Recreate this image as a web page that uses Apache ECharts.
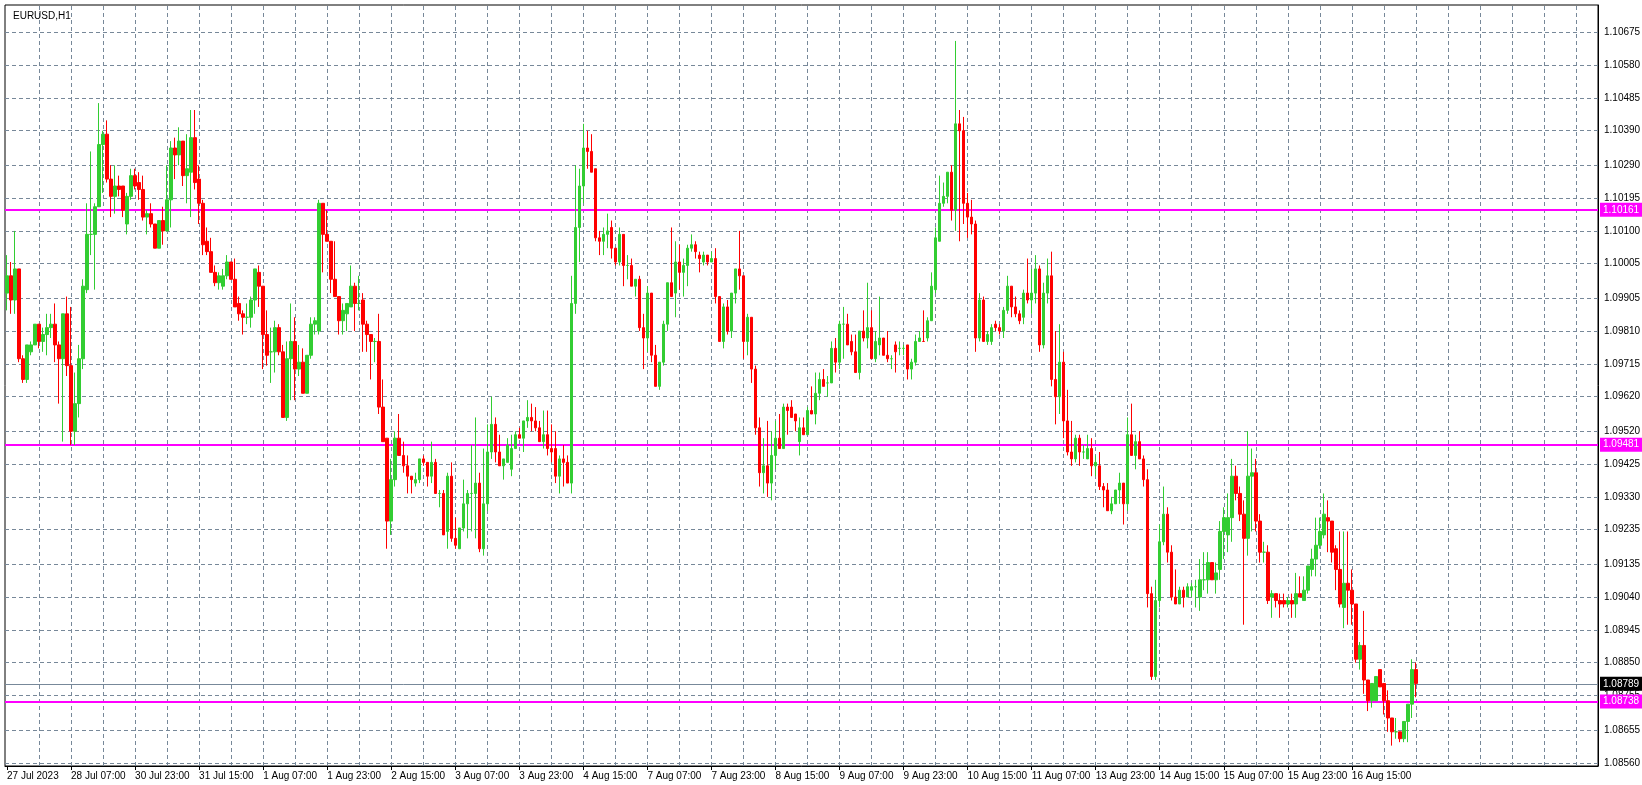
<!DOCTYPE html>
<html><head><meta charset="utf-8">
<script src="https://cdn.jsdelivr.net/npm/echarts@6/dist/echarts.min.js"></script>
<style>html,body{margin:0;padding:0;background:#fff}#c{width:1642px;height:785px}</style>
</head><body><div id="c"></div>
<script>
// Values in pips above 1.08000
const opens = [192,197,190,199,173,167,175,177,183,178,180,182,183,177,173,186,171,152,160,173,193,209,209,217,235,238,225,220,223,223,212,220,226,224,222,214,215,212,205,213,210,219,234,232,236,226,227,237,225,218,207,204,198,195,194,197,201,196,189,186,185,185,190,198,194,180,175,175,182,175,156,173,178,170,172,163,174,183,181,218,209,207,196,191,184,186,188,194,189,190,183,180,178,178,159,150,126,138,150,145,142,139,137,138,144,143,139,143,134,134,123,139,121,118,124,131,134,134,137,118,131,146,154,146,142,143,141,147,151,150,155,156,155,153,149,151,147,147,139,144,143,137,189,211,223,234,233,228,208,207,209,211,205,201,209,200,200,194,196,182,179,192,174,165,172,183,195,192,201,198,200,205,206,203,201,203,201,202,191,178,188,181,192,199,197,178,185,170,153,140,142,137,145,150,147,159,159,157,149,153,151,158,157,163,167,166,166,176,172,183,183,178,175,169,181,179,182,173,177,179,174,173,177,176,176,177,170,172,178,178,179,184,193,207,218,220,227,216,241,239,218,214,212,179,190,178,178,183,182,181,187,194,188,186,185,192,190,192,199,177,192,197,167,162,172,155,146,144,150,146,144,147,142,142,136,135,129,131,135,137,131,151,145,149,144,138,105,81,103,120,128,117,104,102,106,104,106,107,104,109,109,114,109,112,123,122,127,139,134,128,121,139,140,126,117,117,104,105,103,103,102,103,102,105,103,106,112,115,119,122,127,126,118,112,101,108,106,102,86,90,80,74,74,83,79,74,69,65,65,63,68,73,83];
const closes = [197,190,199,173,167,177,177,183,178,180,182,183,177,173,186,171,152,160,173,194,209,209,217,235,238,225,220,223,222,216,220,226,223,222,214,215,212,205,213,210,219,234,232,236,226,228,237,224,218,206,204,198,195,197,197,201,196,188,186,185,185,190,199,194,180,174,175,182,175,156,173,178,170,172,163,174,183,184,218,209,207,196,191,184,187,189,194,189,189,183,180,178,178,159,149,126,138,150,145,142,139,138,138,144,143,139,143,134,134,122,139,121,119,124,131,134,134,137,118,131,146,154,146,142,144,148,147,151,150,155,156,155,153,149,151,147,146,139,144,143,137,189,211,223,234,233,227,208,207,209,210,205,201,209,200,200,194,196,182,179,192,174,165,172,183,195,191,201,198,200,205,206,204,202,203,201,202,191,178,188,181,192,199,197,178,185,170,153,140,142,137,145,150,147,159,158,156,155,153,151,158,157,163,167,165,166,176,172,183,183,177,175,169,181,179,182,173,178,179,174,173,173,175,176,176,170,172,178,179,178,184,194,208,218,220,227,216,241,239,218,214,212,179,190,178,180,182,182,181,187,194,188,186,184,192,190,192,199,177,192,197,167,162,172,155,146,144,150,146,146,147,142,143,136,135,129,131,135,137,131,151,145,149,144,138,105,81,103,120,128,117,104,102,106,104,107,107,107,109,109,114,109,111,123,127,127,139,134,128,121,139,140,126,117,117,103,105,103,102,102,103,102,105,104,106,113,115,119,123,128,126,117,112,102,108,106,102,86,90,80,74,79,81,78,74,69,65,65,63,68,73,83,79];
const lows = [187,186,186,172,166,166,174,177,176,175,174,179,172,160,149,168,148,148,156,170,192,203,193,217,221,224,214,215,220,214,209,219,222,219,213,209,211,205,205,206,210,211,225,229,223,218,214,222,212,203,203,198,194,193,193,196,196,188,184,180,183,182,186,188,170,171,166,169,174,156,155,161,161,168,163,163,173,180,180,198,207,192,191,180,180,181,188,181,187,175,175,167,172,157,149,118,122,136,145,140,134,134,136,137,142,136,137,134,130,122,118,120,118,118,123,121,123,121,117,116,129,144,143,142,138,143,139,147,150,146,153,152,152,149,147,145,143,137,134,136,137,134,186,201,218,228,227,207,203,203,205,202,200,200,194,196,194,191,181,170,175,172,165,164,171,181,191,185,193,191,194,204,202,198,200,200,201,189,178,176,180,179,189,193,173,174,166,151,136,134,133,132,141,147,147,151,156,152,145,151,151,157,154,161,165,162,166,169,170,173,177,174,169,167,178,176,173,172,174,174,172,170,169,174,174,167,167,171,178,178,178,184,192,207,217,218,213,210,207,212,208,209,175,178,178,177,177,181,180,179,186,185,185,183,183,189,186,189,175,176,189,165,154,157,150,145,142,143,142,144,144,139,139,135,130,129,128,131,131,125,129,145,141,144,136,101,80,80,101,119,114,103,102,102,101,104,104,101,100,106,105,109,105,109,115,117,120,132,126,96,116,123,123,114,114,102,98,101,98,101,101,98,98,104,103,105,110,110,118,121,117,114,106,101,95,96,96,85,83,76,71,72,74,78,70,65,61,63,62,62,62,69,75];
const highs = [203,201,210,199,174,177,178,183,183,182,186,186,189,178,186,191,188,169,177,196,218,233,218,247,239,242,229,229,226,223,221,228,228,227,226,216,218,212,213,217,229,236,237,240,236,238,245,245,229,219,211,208,200,198,199,203,201,202,191,187,189,191,199,200,194,187,182,184,183,177,178,189,185,177,176,174,185,185,219,218,216,207,207,191,189,189,200,195,197,192,184,180,179,186,167,150,144,152,157,149,145,139,140,144,145,143,149,144,135,135,140,143,127,124,138,135,148,156,140,147,154,162,156,151,144,150,151,152,153,155,161,160,159,155,158,158,154,152,145,148,145,197,229,228,241,239,238,228,210,211,215,213,205,211,209,203,202,196,197,186,194,192,177,172,184,195,211,207,206,202,206,209,207,204,204,203,204,205,191,189,190,192,199,210,197,186,185,171,156,150,155,152,155,157,160,160,161,157,156,156,159,165,169,169,170,168,178,179,184,188,186,180,180,181,187,195,187,181,191,179,181,174,178,178,177,177,173,180,181,187,185,198,211,226,224,227,229,265,245,243,221,219,213,192,191,181,183,184,183,188,197,194,191,187,193,202,199,203,200,195,202,204,181,183,175,164,155,151,151,148,151,150,145,146,137,137,133,135,140,137,156,160,151,152,145,141,107,109,125,136,130,119,112,107,107,108,108,109,115,117,117,114,114,126,130,134,144,142,136,132,152,147,144,128,120,119,106,105,105,105,104,105,111,110,110,113,118,127,127,134,132,126,119,123,123,123,112,102,91,100,80,79,81,83,79,77,69,69,65,68,73,86,85];
const yTickLabels = ["1.10675","1.10580","1.10485","1.10390","1.10290","1.10195","1.10100","1.10005","1.09905","1.09810","1.09715","1.09620","1.09520","1.09425","1.09330","1.09235","1.09135","1.09040","1.08945","1.08850","1.08755","1.08655","1.08560"];
const levelLines = [1.10161, 1.09481, 1.08738];
const currentPrice = 1.08789;
const symbolTitle = "EURUSD,H1";
const totalSlots = 398;

const toPrice = p => +(1.08 + p / 10000).toFixed(5);
const MON = ["Jan","Feb","Mar","Apr","May","Jun","Jul","Aug","Sep","Oct","Nov","Dec"];
const cats = [];
let t = Date.UTC(2023, 6, 27, 15);
for (let i = 0; i < totalSlots; i++) {
  const d = new Date(t);
  const hh = String(d.getUTCHours()).padStart(2, "0");
  cats.push(i === 0 ? d.getUTCDate() + " " + MON[d.getUTCMonth()] + " 2023" : d.getUTCDate() + " " + MON[d.getUTCMonth()] + " " + hh + ":00");
  t += 3600000;
  const n = new Date(t);
  if (n.getUTCDay() === 5 && n.getUTCHours() === 23) t += 48 * 3600000; // Fri 23:00 -> Sun 23:00
}
const candles = opens.map((o, i) => [toPrice(o), toPrice(closes[i]), toPrice(lows[i]), toPrice(highs[i])]);
const lastIdx = opens.length - 1;

const gridStyle = { color: "#778899", type: [4, 3], width: 1 };
const hGrid = yTickLabels.map(s => ({ yAxis: parseFloat(s), lineStyle: gridStyle,
  label: { show: true, position: "end", distance: 6, formatter: s, color: "#000", fontSize: 10 } }));
const vGrid = [];
for (let i = 8; i < totalSlots; i += 8) vGrid.push({ xAxis: i, lineStyle: gridStyle, label: { show: false } });

const chart = echarts.init(document.getElementById("c"), null, { renderer: "canvas" });
chart.setOption({
  animation: false,
  backgroundColor: "#fff",
  textStyle: { fontFamily: "Liberation Sans, DejaVu Sans, sans-serif" },
  title: { text: symbolTitle, left: 8, top: 6, textStyle: { fontSize: 10, fontWeight: "normal", color: "#000", fontFamily: "Liberation Sans" } },
  grid: { left: 5, right: 44, top: 5, bottom: 19, show: true, borderColor: "#000", borderWidth: 1, containLabel: false },
  xAxis: {
    type: "category", data: cats, boundaryGap: true,
    axisLine: { lineStyle: { color: "#000" } },
    axisTick: { show: true, alignWithLabel: true, interval: (i) => i % 16 === 0 && i <= lastIdx, length: 4, lineStyle: { color: "#000" } },
    axisLabel: { interval: (i) => i % 16 === 0 && i <= lastIdx, align: "left", color: "#000", fontSize: 10, margin: 5, showMaxLabel: false },
    splitLine: { show: false }
  },
  yAxis: {
    type: "value", position: "right", min: 1.08551, max: 1.10754,
    axisLine: { show: true, lineStyle: { color: "#000" } },
    axisTick: { show: false }, axisLabel: { show: false }, splitLine: { show: false }
  },
  series: [
    {
      type: "candlestick", data: candles, z: 3, barWidth: 3,
      itemStyle: { color: "#32CD32", color0: "#FF0000", borderColor: "#32CD32", borderColor0: "#FF0000", borderWidth: 1 },
      markLine: {
        silent: true, symbol: ["none", "none"], animation: false, precision: 5, z: 1,
        data: hGrid.concat(vGrid).concat(levelLines.map(v => ({
          yAxis: v, lineStyle: { color: "#FF00FF", width: 2, type: "solid" },
          label: { show: true, position: "end", distance: 2, formatter: v.toFixed(5), color: "#fff", backgroundColor: "#FF00FF", padding: [2, 3], fontSize: 10 }
        }))).concat([{
          yAxis: currentPrice, lineStyle: { color: "#778899", width: 1, type: "solid" },
          label: { show: true, position: "end", distance: 2, formatter: currentPrice.toFixed(5), color: "#fff", backgroundColor: "#000", padding: [2, 3], fontSize: 10 }
        }])
      }
    }
  ]
});
</script></body></html>
